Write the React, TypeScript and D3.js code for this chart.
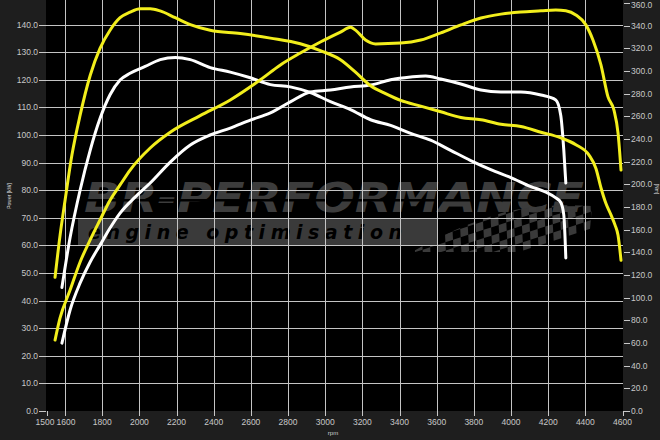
import React from "react";
import * as d3 from "d3";

// ---- data ----
const rpmTicks = [1500, 1600, 1800, 2000, 2200, 2400, 2600, 2800, 3000, 3200, 3400, 3600, 3800, 4000, 4200, 4400, 4600];
const leftTicks = [0, 10, 20, 30, 40, 50, 60, 70, 80, 90, 100, 110, 120, 130, 140];
const rightTicks = [0, 20, 40, 60, 80, 100, 120, 140, 160, 180, 200, 220, 240, 260, 280, 300, 320, 340, 360];

// tuned power (left axis)
const tunedPowerRpm = [1546, 1573, 1627, 1681, 1735, 1788, 1842, 1896, 1950, 2058, 2166, 2327, 2489, 2651, 2759, 2866, 2974, 3082, 3136, 3163, 3217, 3271, 3406, 3514, 3622, 3730, 3838, 3946, 4053, 4161, 4241, 4295, 4349, 4403, 4441, 4484, 4522, 4554, 4576, 4592];
const tunedPower = [25.7, 33.7, 43.8, 54, 62, 69.2, 76.4, 81.9, 87.3, 95.3, 101, 107, 112.7, 120, 125.4, 129.7, 133.7, 137.3, 139, 138, 134.4, 133, 133.3, 134.4, 137, 139.9, 142.4, 143.8, 144.6, 145, 145.3, 145, 143.5, 139.9, 134.4, 125.4, 113.8, 109, 100.7, 87.3];

// tuned torque (right axis)
const tunedTorqueRpm = [1546, 1573, 1600, 1637, 1681, 1735, 1788, 1842, 1896, 1950, 2004, 2058, 2112, 2193, 2274, 2381, 2543, 2705, 2866, 2974, 3082, 3163, 3244, 3325, 3406, 3514, 3622, 3730, 3838, 3946, 4053, 4161, 4268, 4349, 4419, 4457, 4484, 4511, 4538, 4560, 4576, 4592];
const tunedTorque = [118, 155, 186, 226, 261, 296, 320, 336, 347, 352, 355, 355, 353, 347, 341, 336, 333, 329, 324, 318, 310, 299, 287, 280, 274, 269, 264, 259, 257, 253, 251, 246, 241, 235, 226, 214, 197, 183, 173, 164, 155, 133];

// stock power (left axis)
const stockPowerRpm = [1583, 1627, 1681, 1735, 1788, 1842, 1896, 1977, 2058, 2166, 2274, 2381, 2489, 2597, 2705, 2812, 2920, 3028, 3136, 3244, 3352, 3460, 3541, 3622, 3730, 3838, 3946, 4053, 4161, 4241, 4268, 4284, 4295];
const stockPower = [24.6, 36.6, 46.4, 54, 60.1, 66.3, 71.7, 77.5, 82.6, 90.2, 96.4, 100, 102.5, 105.4, 108, 112, 115.6, 116.3, 117.4, 118.1, 120, 121, 121.4, 120.3, 118.5, 116.3, 115.6, 115.6, 114.5, 112.7, 107, 94.6, 82.6];

// stock torque (right axis)
const stockTorqueRpm = [1583, 1627, 1681, 1735, 1788, 1842, 1896, 1950, 2031, 2112, 2193, 2274, 2381, 2489, 2597, 2705, 2812, 2920, 3028, 3136, 3244, 3352, 3460, 3567, 3675, 3783, 3891, 3999, 4107, 4188, 4241, 4268, 4284, 4295];
const stockTorque = [109, 153, 195, 230, 258, 279, 292, 298, 304, 310, 312, 310, 303, 299, 294, 288, 286, 281, 273, 266, 257, 252, 245, 239, 230, 221, 213, 206, 198, 193, 188, 184, 173, 135];

const W = 660;
const H = 440;
const PL = 46, PR = 623, PT = 0, PB = 411;
const BG = "#1e1e1e";
const GRID = "#c4c4c4";
const LABEL = "#c8c8c8";
const YELLOW = "#f2ee1c";
const WHITE = "#ffffff";

export default function App() {
  const x = d3.scaleLinear().domain([1500, 4600]).range([46.5, 622.5]);
  const yL = d3.scaleLinear().domain([0, 140]).range([411, 24.6]);
  const yR = d3.scaleLinear().domain([0, 360]).range([411, 3]);

  const mk = (rpms: number[], vals: number[], y: d3.ScaleLinear<number, number>) =>
    d3
      .line<number>()
      .x((_, i) => x(rpms[i]))
      .y((v) => y(v))
      .curve(d3.curveMonotoneX)(vals) || "";

  const font = "'Liberation Sans', Arial, sans-serif";

  // checker squares for the watermark flag
  const checks: { cx: number; cy: number }[] = [];
  for (let i = -4; i < 30; i++) {
    for (let j = -4; j < 10; j++) {
      if ((i + j) % 2 === 0) checks.push({ cx: i, cy: j });
    }
  }

  const bottomLabelX = (t: number) => (t === 1500 ? x(t) - 1.5 : t === 1600 ? x(t) + 1 : x(t));

  return (
    <svg
      width={W}
      height={H}
      style={{ position: "absolute", left: 0, top: 0, display: "block" }}
      xmlns="http://www.w3.org/2000/svg"
    >
      <defs>
        <clipPath id="plotClip">
          <rect x={PL} y={PT} width={PR - PL} height={PB - PT} />
        </clipPath>
        <clipPath id="flagClip">
          <path d="M412,252 C440,236 470,222 505,212 C530,206 560,204 592,206 L588,252 Z" />
        </clipPath>
      </defs>
      <rect x={0} y={0} width={W} height={H} fill={BG} />
      <rect x={PL} y={PT} width={PR - PL} height={PB - PT} fill="#000" />

      {/* watermark */}
      <g clipPath="url(#plotClip)">
        <text
          x={84}
          y={212}
          fontFamily="'DejaVu Sans', sans-serif"
          fontWeight="bold"
          fontStyle="italic"
          fontSize={40}
          textLength={500}
          lengthAdjust="spacingAndGlyphs"
          fill="#3c3c3c"
        >
          BR-PERFORMANCE
        </text>
        <rect x={80} y={199} width={510} height={2.5} fill="#000" />
        <rect x={78} y={218} width={360} height={27} fill="#3a3a3a" />
        <text
          x={88}
          y={239}
          fontFamily="'DejaVu Sans', sans-serif"
          fontWeight="bold"
          fontStyle="italic"
          fontSize={19}
          textLength={314}
          lengthAdjust="spacing"
          fill="#000"
        >
          engine optimisation
        </text>
        <g clipPath="url(#flagClip)">
          <g transform="translate(420,200) rotate(-18) skewX(-15)">
            {checks.map((c, k) => (
              <rect key={k} x={c.cx * 8} y={c.cy * 8} width={8} height={8} fill="#3a3a3a" />
            ))}
          </g>
        </g>
      </g>

      {/* grid */}
      <g>
        {leftTicks
          .filter((t) => t > 0)
          .map((t) => (
            <line
              key={"h" + t}
              x1={PL}
              x2={PR}
              y1={Math.round(yL(t)) + 0.5}
              y2={Math.round(yL(t)) + 0.5}
              stroke={GRID}
              strokeWidth={1}
            />
          ))}
        {rpmTicks
          .filter((t) => t > 1500 && t < 4600)
          .map((t) => (
            <line
              key={"v" + t}
              x1={Math.round(x(t)) + 0.5}
              x2={Math.round(x(t)) + 0.5}
              y1={PT}
              y2={PB}
              stroke={GRID}
              strokeWidth={1}
            />
          ))}
      </g>

      {/* left axis */}
      <g fontFamily={font} fontSize={8.5} fill={LABEL}>
        {leftTicks.map((t) => (
          <g key={"l" + t}>
            <line x1={39} x2={PL} y1={Math.round(yL(t)) + 0.5} y2={Math.round(yL(t)) + 0.5} stroke={LABEL} />
            <text x={38} y={yL(t)} textAnchor="end" dominantBaseline="central">
              {t.toFixed(1)}
            </text>
          </g>
        ))}
      </g>

      {/* right axis */}
      <g fontFamily={font} fontSize={8.5} fill={LABEL}>
        {rightTicks.map((t) => (
          <g key={"r" + t}>
            <line x1={PR + 1} x2={PR + 7} y1={Math.round(yR(t)) + 0.5} y2={Math.round(yR(t)) + 0.5} stroke={LABEL} />
            <text x={PR + 8} y={Math.max(yR(t), 5)} textAnchor="start" dominantBaseline="central">
              {t.toFixed(1)}
            </text>
          </g>
        ))}
      </g>

      {/* bottom axis */}
      <g fontFamily={font} fontSize={8.5} fill={LABEL}>
        {rpmTicks.map((t) => (
          <g key={"b" + t}>
            <line x1={Math.round(x(t)) + 0.5} x2={Math.round(x(t)) + 0.5} y1={PB} y2={PB + 5} stroke={LABEL} />
            <text x={bottomLabelX(t)} y={425} textAnchor="middle">
              {t}
            </text>
          </g>
        ))}
      </g>

      {/* unit labels */}
      <text x={0} y={0} transform="translate(11,196) rotate(-90)" fontFamily={font} fontSize={5} fill="#e0e0e0" textAnchor="middle">
        Power [kW]
      </text>
      <text x={0} y={0} transform="translate(655,189) rotate(90)" fontFamily={font} fontSize={5} fill="#e0e0e0" textAnchor="middle">
        [Nm]
      </text>
      <text x={333} y={435} fontFamily={font} fontSize={6} fill="#d0d0d0" textAnchor="middle">
        rpm
      </text>

      {/* curves */}
      <g clipPath="url(#plotClip)" fill="none" strokeWidth={3} strokeLinejoin="round" strokeLinecap="round">
        <path d={mk(stockPowerRpm, stockPower, yL)} stroke={WHITE} />
        <path d={mk(stockTorqueRpm, stockTorque, yR)} stroke={WHITE} />
        <path d={mk(tunedPowerRpm, tunedPower, yL)} stroke={YELLOW} />
        <path d={mk(tunedTorqueRpm, tunedTorque, yR)} stroke={YELLOW} />
      </g>
    </svg>
  );
}
